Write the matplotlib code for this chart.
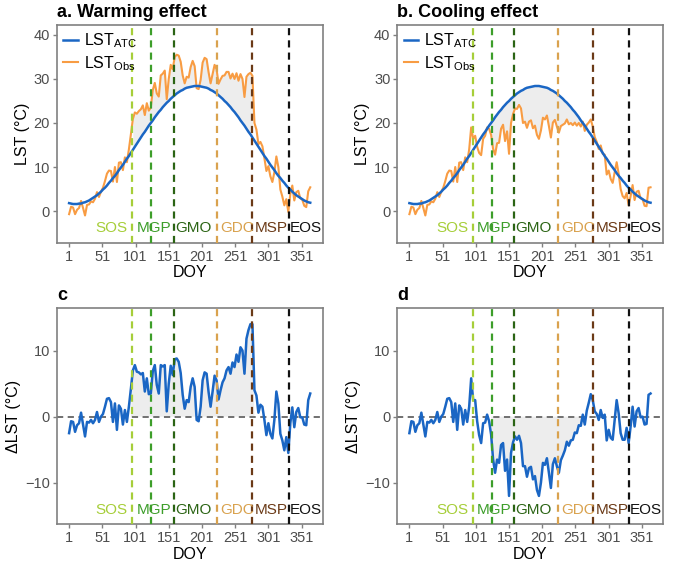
import numpy as np
import matplotlib.pyplot as plt

plt.rcParams['font.family'] = ['Liberation Sans', 'DejaVu Sans']
plt.rcParams['mathtext.fontset'] = 'custom'
plt.rcParams['mathtext.rm'] = 'Liberation Sans'
plt.rcParams['mathtext.it'] = 'Liberation Sans:italic'

# day of year grid (every 3 days)
doy = np.arange(1, 365, 3)

lst_atc = np.array([
    1.8, 1.7, 1.6, 1.6, 1.6, 1.7, 1.7, 1.9, 2.0, 2.2,
    2.4, 2.7, 3.0, 3.3, 3.6, 4.0, 4.4, 4.9, 5.3, 5.8,
    6.4, 6.9, 7.5, 8.0, 8.6, 9.3, 9.9, 10.5, 11.2, 11.9,
    12.5, 13.2, 13.9, 14.6, 15.3, 16.0, 16.7, 17.4, 18.0, 18.7,
    19.4, 20.0, 20.6, 21.3, 21.9, 22.5, 23.0, 23.6, 24.1, 24.6,
    25.0, 25.5, 25.9, 26.3, 26.7, 27.0, 27.3, 27.5, 27.8, 28.0,
    28.1, 28.2, 28.3, 28.4, 28.4, 28.4, 28.3, 28.2, 28.1, 28.0,
    27.8, 27.5, 27.3, 27.0, 26.7, 26.3, 25.9, 25.5, 25.0, 24.6,
    24.1, 23.6, 23.0, 22.5, 21.9, 21.3, 20.6, 20.0, 19.4, 18.7,
    18.0, 17.4, 16.7, 16.0, 15.3, 14.6, 13.9, 13.2, 12.5, 11.9,
    11.2, 10.5, 9.9, 9.3, 8.6, 8.0, 7.5, 6.9, 6.4, 5.8,
    5.3, 4.9, 4.4, 4.0, 3.6, 3.3, 3.0, 2.7, 2.4, 2.2,
    2.0, 1.9])

# delta LST (obs - ATC), panel c (warming)
dlst_warm = np.array([
    -2.5, -0.7, -0.8, -2.3, -1.3, -1.0, 0.6, -1.2, -3.0, -0.8,
    -0.9, -0.5, -1.0, -0.5, 0.7, -0.8, 0.0, 0.4, 1.5, 2.7,
    2.8, 2.2, -0.8, 2.0, -2.0, 1.7, 1.2, -1.2, 1.0, -0.8,
    1.5, 4.2, 7.0, 7.8, 6.8, 6.7, 6.4, 6.6, 3.8, 5.8,
    3.4, 3.5, 6.9, 7.8, 4.8, 3.5, 7.8, 7.6, 7.8, 0.8,
    5.0, 7.7, 6.3, 8.7, 8.8, 8.3, 6.6, 3.3, 1.2, 2.5,
    2.2, 4.5, 5.8, 4.5, -0.5, -0.7, 1.5, 5.5, 6.7, 6.5,
    3.7, 1.5, 3.8, 6.2, 5.5, 2.6, 4.0, 5.2, 5.8, 7.0,
    7.5, 6.5, 8.2, 7.5, 9.4, 8.3, 10.5, 10.0, 6.5, 11.8,
    13.1, 14.0, 14.0, 4.0, 3.2, 0.6, 1.8, 1.5, -0.5, -2.8,
    -1.0, -2.6, -3.3, -0.5, 3.8, 2.0, -2.6, -3.6, -5.1, -3.1,
    -5.5, -1.0, 1.4, -1.6, 0.7, 1.3, -0.1, -0.1, -1.2, -1.3,
    2.5, 3.5])

# delta LST (obs - ATC), panel d (cooling)
dlst_cool = np.array([
    -2.5, -0.7, -0.8, -2.3, -1.3, -1.0, 0.6, -1.2, -3.0, -0.8,
    -0.9, -0.5, -1.0, -0.5, 0.7, -0.8, 0.0, 0.4, 1.5, 2.7,
    2.8, 2.2, -0.8, 2.0, -2.0, 1.7, 1.2, -1.2, 1.0, -0.8,
    1.5, 5.8, 2.5, 2.5, -0.7, -2.8, -4.0, -1.0, -0.9, 0.3,
    -0.7, -2.7, -6.5, -8.5, -6.5, -7.0, -4.3, -4.0, -8.2, -6.5,
    -12.0, -5.5, -3.9, -3.0, -3.5, -2.9, -4.0, -7.5, -7.5, -9.1,
    -7.8, -7.6, -9.5, -9.0, -11.1, -12.0, -10.0, -7.0, -7.3, -6.3,
    -8.5, -10.8, -7.2, -6.3, -7.5, -8.5, -6.6, -5.9, -5.1, -3.8,
    -4.4, -3.6, -3.5, -2.4, -2.5, -1.3, -1.4, 0.3, -1.2, 0.9,
    2.1, 3.4, 2.5, 0.8, 0.4, -0.5, 1.0, -0.2, 0.3, -3.6,
    -2.0, -3.2, -3.5, -0.5, 2.5, 0.5, -2.5, -3.5, -3.5, -1.7,
    -4.0, -1.5, 1.5, -1.5, 0.8, 1.3, -0.1, 0.0, -1.2, -1.1,
    3.3, 3.5])

lst_obs_warm = lst_atc + dlst_warm
lst_obs_cool = lst_atc + dlst_cool

phase_names = ['SOS', 'MGP', 'GMO', 'GDC', 'MSP', 'EOS']
phase_doy = [96, 125, 159, 224, 277, 332]
phase_colors = ['#A6CE39', '#3D9E2A', '#2B6414', '#D9A24E', '#6B3A17', '#111111']
label_x = [41, 103, 161, 229, 281, 333]

xticks = [1, 51, 101, 151, 201, 251, 301, 351]

blue = '#1A66C4'
orange = '#F89C43'
fillc = '#EDEDED'
dash = (0, (3.2, 2.3))

fig = plt.figure(figsize=(6.8, 5.67), dpi=100)
w, h = 266 / 680, 218 / 567
ax_a = fig.add_axes([57 / 680, 1 - 243 / 567, w, h])
ax_b = fig.add_axes([397.3 / 680, 1 - 243 / 567, w, h])
ax_c = fig.add_axes([57 / 680, 1 - 524.3 / 567, w, 216 / 567])
ax_d = fig.add_axes([397.3 / 680, 1 - 524.3 / 567, w, 216 / 567])


def style(ax, ylim, yticks, ylabel, title, label_y):
    ax.set_xlim(-17.2, 383.2)
    ax.set_ylim(*ylim)
    ax.set_xticks(xticks)
    ax.set_yticks(yticks)
    for s in ax.spines.values():
        s.set_color('#808080')
        s.set_linewidth(1.2)
    ax.tick_params(color='#808080', labelcolor='#4D4D4D', labelsize=10.5,
                   length=3, width=1, pad=2)
    ax.set_xlabel('DOY', fontsize=11.5, labelpad=1)
    ax.set_ylabel(ylabel, fontsize=11.5, labelpad=3)
    ax.set_title(title, loc='left', fontsize=13, fontweight='bold', pad=6)
    for d, c in zip(phase_doy, phase_colors):
        ax.axvline(d, color=c, lw=1.6, ls=dash, zorder=4)
    for name, x, c in zip(phase_names, label_x, phase_colors):
        ax.text(x, label_y, name, color=c, fontsize=11, ha='left', va='center', zorder=5)


in_window = (doy >= phase_doy[0]) & (doy <= phase_doy[4])
in_window_cool = (doy >= phase_doy[1]) & (doy <= phase_doy[4])

# a. warming
ax_a.fill_between(doy, lst_atc, lst_obs_warm, where=in_window, color=fillc, lw=0, zorder=1)
ax_a.plot(doy, lst_obs_warm, color=orange, lw=1.5, zorder=2, label=r'LST$_{\mathrm{Obs}}$')
ax_a.plot(doy, lst_atc, color=blue, lw=1.8, zorder=3, label=r'LST$_{\mathrm{ATC}}$')
style(ax_a, (-7.25, 42.25), [0, 10, 20, 30, 40], 'LST (°C)', 'a. Warming effect', -3.9)

# b. cooling
ax_b.fill_between(doy, lst_atc, lst_obs_cool, where=in_window_cool & (lst_obs_cool <= lst_atc),
                  interpolate=True, color=fillc, lw=0, zorder=1)
ax_b.plot(doy, lst_obs_cool, color=orange, lw=1.5, zorder=2, label=r'LST$_{\mathrm{Obs}}$')
ax_b.plot(doy, lst_atc, color=blue, lw=1.8, zorder=3, label=r'LST$_{\mathrm{ATC}}$')
style(ax_b, (-7.25, 42.25), [0, 10, 20, 30, 40], 'LST (°C)', 'b. Cooling effect', -3.9)

for ax in (ax_a, ax_b):
    hnd, lab = ax.get_legend_handles_labels()
    ax.legend(hnd[::-1], lab[::-1], loc='upper left', frameon=False, fontsize=11.5,
              handlelength=0.9, handletextpad=0.4, labelspacing=0.25,
              borderaxespad=0.2, borderpad=0.2)

# c. delta warming
ax_c.fill_between(doy, 0, dlst_warm, where=in_window & (dlst_warm >= 0),
                  interpolate=True, color=fillc, lw=0, zorder=1)
ax_c.axhline(0, color='#707070', lw=1.4, ls=dash, zorder=2)
ax_c.plot(doy, dlst_warm, color=blue, lw=1.8, zorder=3)
style(ax_c, (-16.3, 16.4), [-10, 0, 10], 'ΔLST (°C)', 'c', -14.2)

# d. delta cooling
ax_d.fill_between(doy, 0, dlst_cool, where=in_window_cool & (dlst_cool <= 0),
                  interpolate=True, color=fillc, lw=0, zorder=1)
ax_d.axhline(0, color='#707070', lw=1.4, ls=dash, zorder=2)
ax_d.plot(doy, dlst_cool, color=blue, lw=1.8, zorder=3)
style(ax_d, (-16.3, 16.4), [-10, 0, 10], 'ΔLST (°C)', 'd', -14.2)

fig.savefig('out.png', dpi=100)
